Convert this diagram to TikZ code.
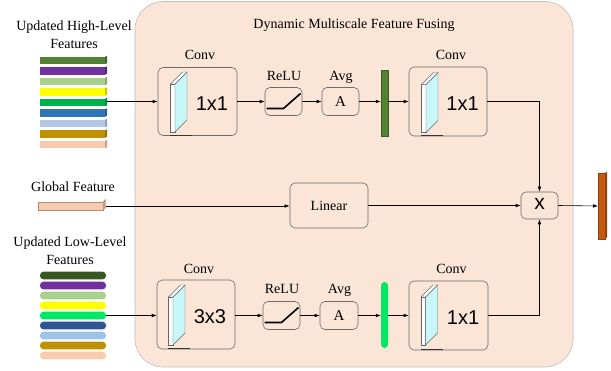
\documentclass[tikz,border=0pt]{standalone}
\usepackage{fontspec}
\setmainfont{Liberation Serif}
\newfontfamily\sansf{Liberation Sans}
\usetikzlibrary{arrows.meta}
\definecolor{panel}{HTML}{FBE5D6}
\definecolor{panelline}{HTML}{BFBFBF}
\definecolor{boxline}{HTML}{6B6B6B}
\definecolor{slabcyan}{HTML}{C8F7FA}
\definecolor{hA}{HTML}{548235}
\definecolor{hB}{HTML}{7030A0}
\definecolor{hC}{HTML}{A9D18E}
\definecolor{hD}{HTML}{FFFF00}
\definecolor{hE}{HTML}{00B050}
\definecolor{hF}{HTML}{2E75B6}
\definecolor{hG}{HTML}{B4C7E7}
\definecolor{hH}{HTML}{BF9000}
\definecolor{hI}{HTML}{F8CBAD}
\definecolor{lA}{HTML}{385723}
\definecolor{lE}{HTML}{00E865}
\definecolor{lF}{HTML}{2F5597}
\definecolor{lG}{HTML}{9DC3E6}
\definecolor{outc}{HTML}{C55A11}
\tikzset{
  box/.style={draw=boxline, fill=panel, rounded corners=5pt, line width=0.6pt, inner sep=0pt},
  arr/.style={-{Latex[length=5pt,width=3.6pt]}, line width=0.6pt, black},
  lbl/.style={inner sep=0pt, font=\rmfamily\fontsize{14}{17.5}\selectfont},
  bigs/.style={inner sep=0pt, font=\sansf\fontsize{20}{20}\selectfont},
  slab/.pic={
    \filldraw[fill=white, draw=black!60, line width=0.4pt] (0,0) rectangle (4.5,-48);
    \filldraw[fill=slabcyan, draw=black!60, line width=0.4pt] (4.5,0) -- (4.5,-48) -- (16.5,-60) -- (16.5,-12) -- cycle;
    \filldraw[fill=white, draw=black!60, line width=0.4pt] (0,-48) -- (12,-60) -- (16.5,-60) -- (4.5,-48) -- cycle;
  },
  ramp/.pic={
    \draw[line width=1.6pt, black] (-17,7) -- (0,7) -- (17,-8);
  }
}
\begin{document}
\begin{tikzpicture}[x=1pt,y=-1pt]
\useasboundingbox (0,0) rectangle (611,371);
% panel
\filldraw[fill=panel, draw=panelline, line width=0.6pt, rounded corners=28pt] (135,1.5) rectangle (573,367);
\node[lbl] (title) at (354,25) {Dynamic Multiscale Feature Fusing};

% input labels
\node[lbl, align=center] (hilbl) at (74,34.5) {Updated High-Level\\Features};
\node[lbl] (glbl) at (73,187) {Global Feature};
\node[lbl, align=center] (lolbl) at (70,250.5) {Updated Low-Level\\Features};

% high-level bars
\foreach \c [count=\i from 0] in {hA,hB,hC,hD,hE,hF,hG,hH,hI}{
  \fill[\c] (40,{56.8+10.5*\i}) rectangle (105,{64.2+10.5*\i});
  \fill[\c!80!black] (105,{56.8+10.5*\i}) -- (107,{55.8+10.5*\i}) -- (107,{63.2+10.5*\i}) -- (105,{64.2+10.5*\i}) -- cycle;
}
\coordinate (hiout) at (107,101.5);

% low-level bars
\foreach \c [count=\i from 0] in {lA,hB,hC,hD,lE,lF,lG,hH,hI}{
  \fill[\c, rounded corners=3.5pt] (40,{271.7+10*\i}) rectangle (106,{279.4+10*\i});
}
\coordinate (loout) at (106,315.5);

% global feature bar
\filldraw[fill=hI, draw=hI!70!black, line width=0.4pt] (38,202) rectangle (103,210);
\filldraw[fill=hI!80!black, draw=hI!70!black, line width=0.4pt] (103,202) -- (105.5,199.5) -- (105.5,207.5) -- (103,210) -- cycle;
\coordinate (gout) at (105.5,206);

% top row
\node[box, minimum width=79pt, minimum height=68pt] (conv1) at (197.5,101.5) {};
\pic at (170.5,132) {slab};
\draw[black!80, line width=1pt] (170,135.3) -- (192,135.3);
\node[bigs] (t11) at (212,103.5) {1x1};
\node[lbl] (c1lbl) at (200,54.5) {Conv};

\node[box, minimum width=37pt, minimum height=28pt] (relu1) at (283.5,101.5) {};
\pic at (relu1.center) {ramp};
\node[lbl] (r1lbl) at (284,76) {ReLU};

\node[box, minimum width=37pt, minimum height=28pt] (avg1) at (340.5,101.5) {\rmfamily\fontsize{15}{15}\selectfont A};
\node[lbl] (a1lbl) at (341,77.5) {Avg};

\node[draw=hA!70!black, fill=hA, line width=0.4pt, minimum width=7pt, minimum height=66pt, inner sep=0pt] (g1) at (384.5,103) {};

\node[box, minimum width=78pt, minimum height=69pt] (conv2) at (448,101.5) {};
\pic at (421.5,132.5) {slab};
\draw[black!80, line width=1pt] (421,136) -- (443,136);
\node[bigs] (t12) at (462.5,103.5) {1x1};
\node[lbl] (c2lbl) at (451,54.5) {Conv};

% middle row
\node[box, minimum width=78pt, minimum height=45pt] (linear) at (329,205.5) {};
\node[lbl] (lintxt) at (linear.center) {Linear};
\node[box, minimum width=37pt, minimum height=27pt] (xbox) at (539.5,205.5) {};
\node[inner sep=0pt, font=\sansf\fontsize{21}{21}\selectfont] (xtxt) at (539.5,204) {x};
\filldraw[fill=outc, draw=outc!70!black, line width=0.4pt] (598,173) rectangle (605,239);
\fill[outc!75!black] (605,173) -- (607,171.5) -- (607,237.5) -- (605,239) -- cycle;
\coordinate (outin) at (598,206);

% bottom row
\node[box, minimum width=78pt, minimum height=69pt] (conv3) at (196,314.5) {};
\pic at (168.5,345) {slab};
\draw[black!80, line width=1pt] (168,349) -- (190,349);
\node[bigs] (t33) at (210,317) {3x3};
\node[lbl] (c3lbl) at (199,269) {Conv};

\node[box, minimum width=37pt, minimum height=28pt] (relu2) at (281.5,315.5) {};
\pic at (relu2.center) {ramp};
\node[lbl] (r2lbl) at (282,289) {ReLU};

\node[box, minimum width=38pt, minimum height=28pt] (avg2) at (339,315.5) {\rmfamily\fontsize{15}{15}\selectfont A};
\node[lbl] (a2lbl) at (339.5,290.5) {Avg};

\node[fill=lE, rounded corners=3.5pt, minimum width=7pt, minimum height=66pt, inner sep=0pt] (g2) at (384.5,315) {};

\node[box, minimum width=79pt, minimum height=69pt] (conv4) at (448.5,315.5) {};
\pic at (421,345) {slab};
\draw[black!80, line width=1pt] (421,350) -- (443,350);
\node[bigs] (t14) at (463,317.5) {1x1};
\node[lbl] (c4lbl) at (451.5,269) {Conv};

% connectors
\draw[arr] (hiout) -- (conv1.west |- hiout);
\draw[arr] (conv1) -- (relu1);
\draw[arr] (relu1) -- (avg1);
\draw[arr] (avg1.east) -- (g1.west |- avg1.east);
\draw[arr] (g1.east |- conv2.west) -- (conv2.west);
\draw[arr] (conv2.east) -| (xbox.north);

\draw[arr] (gout) -- (linear.west |- gout);
\draw[arr] (linear.east |- xbox.west) -- (xbox.west);
\draw[arr] (xbox.east) -- (outin);

\draw[arr] (loout) -- (conv3.west |- loout);
\draw[arr] (conv3.east |- relu2.west) -- (relu2.west);
\draw[arr] (relu2) -- (avg2);
\draw[arr] (avg2.east) -- (g2.west |- avg2.east);
\draw[arr] (g2.east |- conv4.west) -- (conv4.west);
\draw[arr] (conv4.east) -| (xbox.south);
\end{tikzpicture}
\end{document}
